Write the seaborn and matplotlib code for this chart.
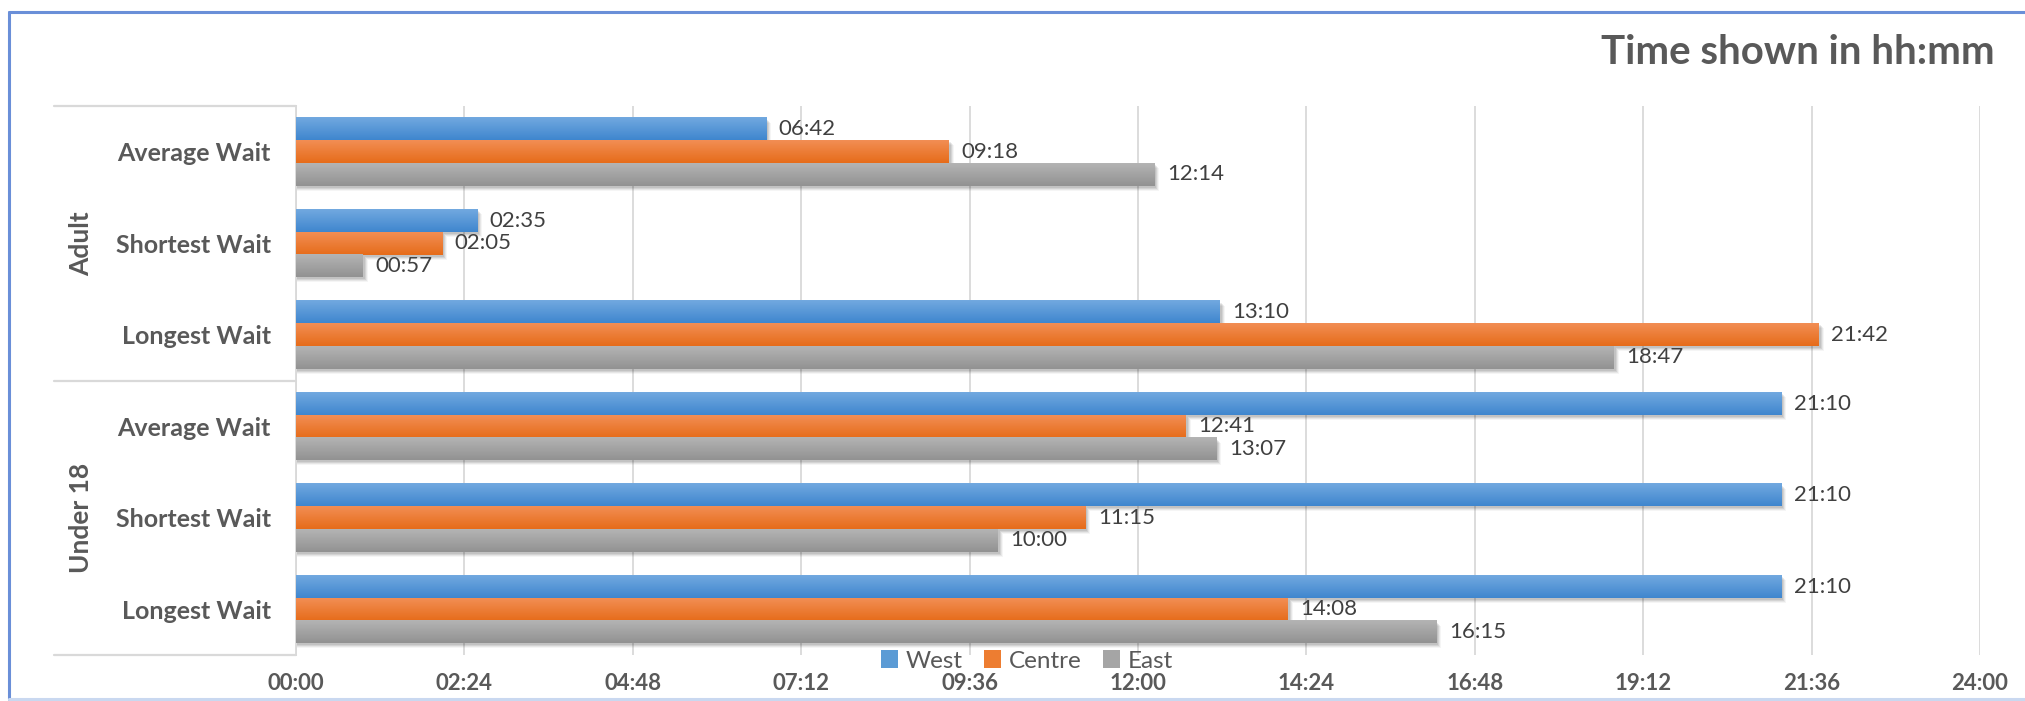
import numpy as np
import pandas as pd
import matplotlib
matplotlib.use("Agg")
import matplotlib.pyplot as plt
import seaborn as sns
from matplotlib.patches import Rectangle, Patch
from matplotlib.lines import Line2D
from matplotlib.colors import to_rgb
from matplotlib.ticker import FixedLocator, FixedFormatter
import matplotlib.transforms as mtransforms

# ---- data -------------------------------------------------------------
groups = ["Adult", "Under 18"]
measures = ["Average Wait", "Shortest Wait", "Longest Wait"]
regions = ["West", "Centre", "East"]

west = ["06:42", "02:35", "13:10", "21:10", "21:10", "21:10"]
centre = ["09:18", "02:05", "21:42", "12:41", "11:15", "14:08"]
east = ["12:14", "00:57", "18:47", "13:07", "10:00", "16:15"]

x_tick_labels = ["00:00", "02:24", "04:48", "07:12", "09:36", "12:00",
                 "14:24", "16:48", "19:12", "21:36", "24:00"]


def to_hours(s):
    h, m = s.split(":")
    return int(h) + int(m) / 60.0


rows = []
row_names = [f"{g} | {m}" for g in groups for m in measures]
for i, rn in enumerate(row_names):
    for reg, vals in zip(regions, [west, centre, east]):
        rows.append({"row": rn, "Region": reg, "text": vals[i],
                     "hours": to_hours(vals[i])})
df = pd.DataFrame(rows)

# ---- style ------------------------------------------------------------
sns.set_style("white")
plt.rcParams["font.family"] = ["Lato", "DejaVu Sans"]

base = {"West": "#5B9BD5", "Centre": "#ED7D31", "East": "#A5A5A5"}
light = {"West": "#72A9E0", "Centre": "#F28E54", "East": "#B4B4B4"}
dark = {"West": "#3F86CE", "Centre": "#E66C1A", "East": "#929292"}
text_grey = "#595959"

W, H = 2025, 701
fig = plt.figure(figsize=(W / 100, H / 100), dpi=100)
ax_l, ax_r, ax_t, ax_b = 296, 1980, 106, 655
ax = fig.add_axes([ax_l / W, 1 - ax_b / H, (ax_r - ax_l) / W, (ax_b - ax_t) / H])

sns.barplot(data=df, x="hours", y="row", hue="Region", order=row_names,
            hue_order=regions, palette=base, orient="h", width=0.74, gap=0,
            saturation=1, dodge=True, errorbar=None, legend=False, ax=ax)

ax.set_xlim(0, 24)
ax.set_ylim(len(row_names) - 0.5, -0.5)

# ---- gradient bars with soft shadow -----------------------------------
px_x = 24 / (ax_r - ax_l)
px_y = len(row_names) / (ax_b - ax_t)
for reg, cont in zip(regions, ax.containers):
    c0 = np.array(to_rgb(light[reg]))
    c1 = np.array(to_rgb(dark[reg]))
    t = np.linspace(0, 1, 64)[:, None]
    grad = (c0 * (1 - t) + c1 * t)[:, None, :]
    for bar, txt in zip(cont, df[df.Region == reg]["text"]):
        x, y = bar.get_x(), bar.get_y()
        w, h = bar.get_width(), bar.get_height()
        bar.set_facecolor("none")
        bar.set_edgecolor("none")
        for k, a in [(5, 0.04), (4, 0.06), (3, 0.08), (2, 0.08)]:
            ax.add_patch(Rectangle((x + 1 * px_x, y + k * px_y), w + (k - 1) * px_x, h,
                                   facecolor="black", alpha=a, lw=0, zorder=2))
        ax.imshow(grad, extent=(x, x + w, y + h, y), origin="upper",
                  aspect="auto", interpolation="bilinear", zorder=3)
        ax.annotate(txt, xy=(x + w, y + h / 2), xytext=(9, 0),
                    textcoords="offset points", ha="left", va="center",
                    fontsize=16, color="#404040", zorder=5)

ax.set_xlim(0, 24)
ax.set_ylim(len(row_names) - 0.5, -0.5)
ax.set_aspect("auto")

# ---- axes -------------------------------------------------------------
ax.xaxis.set_major_locator(FixedLocator(np.arange(0, 24.01, 2.4)))
ax.xaxis.set_major_formatter(FixedFormatter(x_tick_labels))
ax.set_yticks(range(len(row_names)))
ax.set_yticklabels([m for g in groups for m in measures])
ax.tick_params(axis="x", length=0, pad=13, labelsize=16, labelcolor=text_grey)
ax.tick_params(axis="y", length=0, pad=18, labelsize=18, labelcolor=text_grey)
for lab in ax.get_xticklabels() + ax.get_yticklabels():
    lab.set_fontweight("bold")
ax.set_xlabel("")
ax.set_ylabel("")
ax.grid(axis="x", color="#D9D9D9", lw=1.3, zorder=0)
ax.set_axisbelow(True)
for s in ["top", "right", "bottom"]:
    ax.spines[s].set_visible(False)
ax.spines["left"].set_color("#D9D9D9")
ax.spines["left"].set_linewidth(1.3)

# category axis separators and group labels
tr = mtransforms.blended_transform_factory(ax.transAxes, ax.transData)
x_start = (54 - ax_l) / (ax_r - ax_l)
for yy in [-0.5, 2.5, 5.5]:
    ax.add_line(Line2D([x_start, 0], [yy, yy], transform=tr, color="#D9D9D9",
                       lw=1.6, clip_on=False))
x_grp = (81 - ax_l) / (ax_r - ax_l)
for gi, g in enumerate(groups):
    ax.text(x_grp, gi * 3 + 1, g, transform=tr, rotation=90, ha="center",
            va="center", fontsize=19, fontweight="bold", color=text_grey)

# ---- legend -----------------------------------------------------------
handles = [Patch(facecolor=base[r], edgecolor="none", label=r) for r in regions]
fig.legend(handles=handles, loc="center", bbox_to_anchor=(1027 / W, 1 - 661 / H),
           ncol=3, frameon=False, fontsize=17.5, handlelength=0.7,
           handleheight=0.7, handletextpad=0.3, columnspacing=0.9,
           labelcolor=text_grey)

# ---- title ------------------------------------------------------------
fig.text(1995 / W, 1 - 52 / H, "Time shown in hh:mm", ha="right", va="center",
         fontsize=29, fontweight="bold", color=text_grey)

# ---- chart frame ------------------------------------------------------
fig.add_artist(Line2D([9 / W, 1], [1 - 12 / H, 1 - 12 / H], transform=fig.transFigure,
                      color="#6A8FD8", lw=2.2))
fig.add_artist(Line2D([9 / W, 9 / W], [1 - 12 / H, 1 - 699 / H], transform=fig.transFigure,
                      color="#6A8FD8", lw=2.2))
fig.add_artist(Line2D([9 / W, 1], [1 - 699 / H, 1 - 699 / H], transform=fig.transFigure,
                      color="#C9D8F0", lw=2.2))

fig.savefig("out.png", dpi=100)
